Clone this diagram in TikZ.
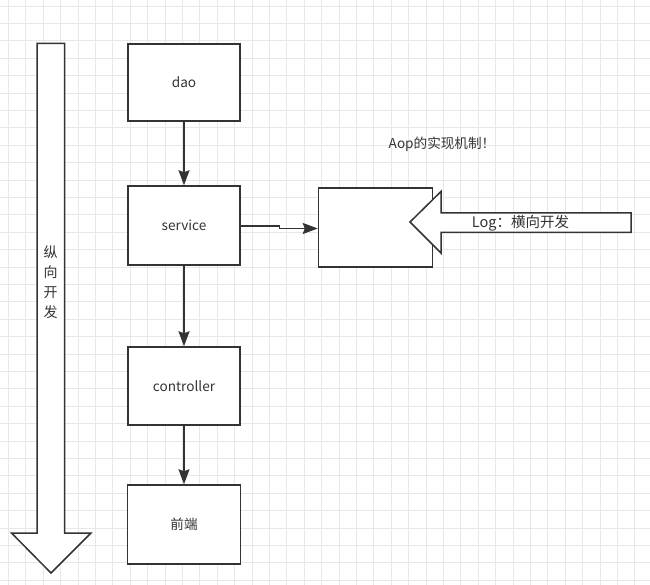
\documentclass[tikz,border=0pt]{standalone}
\usepackage{fontspec}
\setmainfont{Noto Sans CJK SC}
\usetikzlibrary{arrows.meta}
\definecolor{gridc}{HTML}{E8E8E8}
\definecolor{ln}{HTML}{333333}
\definecolor{txt}{HTML}{333333}
\begin{document}
\begin{tikzpicture}[x=1pt,y=-1pt,
  box/.style={draw=ln,line width=1.5pt,fill=white,inner sep=0pt,text=txt,font=\fontsize{13.6}{16}\selectfont},
  conn/.style={draw=ln,line width=1.5pt,-{Stealth[length=15pt,width=11pt,inset=2pt]}},
  bigarrow/.style={draw=ln,line width=1.5pt,fill=white,line join=miter},
  lbl/.style={text=txt,inner sep=0pt,font=\fontsize{13.6}{16}\selectfont}]
\fill[white] (0,0) rectangle (650,585);
\useasboundingbox (0,0) rectangle (650,585);
\foreach \k in {0,...,37} {
  \draw[gridc,line width=0.8pt] ({8.4+17.4*\k},0) -- ({8.4+17.4*\k},585);
}
\foreach \k in {0,...,33} {
  \draw[gridc,line width=0.8pt] (0,{6+17.4*\k}) -- (650,{6+17.4*\k});
}
% vertical big arrow
\draw[bigarrow] (37,43.5) -- (64.5,43.5) -- (64.5,533) -- (91,533) -- (51,573) -- (11.5,533) -- (37,533) -- cycle;
\node[lbl,align=center,font=\fontsize{14}{20}\selectfont] (vt) at (50.5,282) {纵\\向\\开\\发};
% boxes
\node[box,minimum width=112pt,minimum height=77pt] (dao) at (184,82.5) {dao};
\node[box,minimum width=112pt,minimum height=79pt] (service) at (184,225.5) {service};
\node[box,minimum width=112pt,minimum height=78pt] (controller) at (184,386) {controller};
\node[box,minimum width=113pt,minimum height=79pt] (front) at (184,524.5) {前端};
\node[box,minimum width=114pt,minimum height=79pt] (aop) at (375.5,227.5) {};
\draw[conn] (dao) -- (service);
\draw[conn] (service) -- (controller);
\draw[conn] (controller) -- (front);
\coordinate (bendA) at (279.5,226);
\coordinate (bendB) at (279.5,228.5);
\draw[conn] (service.east |- bendA) -- (bendA) -- (bendB) -- (aop.west |- bendB);
% horizontal big arrow
\draw[bigarrow] (410,222) -- (441,191.5) -- (441,213) -- (631,213) -- (631,232.5) -- (441,232.5) -- (441,253) -- cycle;
\node[lbl,font=\fontsize{14.5}{16}\selectfont] (logtxt) at (520.5,223) {Log：横向开发};
\node[lbl] (aoptxt) at (442,144) {Aop的实现机制！};
\end{tikzpicture}
\end{document}
